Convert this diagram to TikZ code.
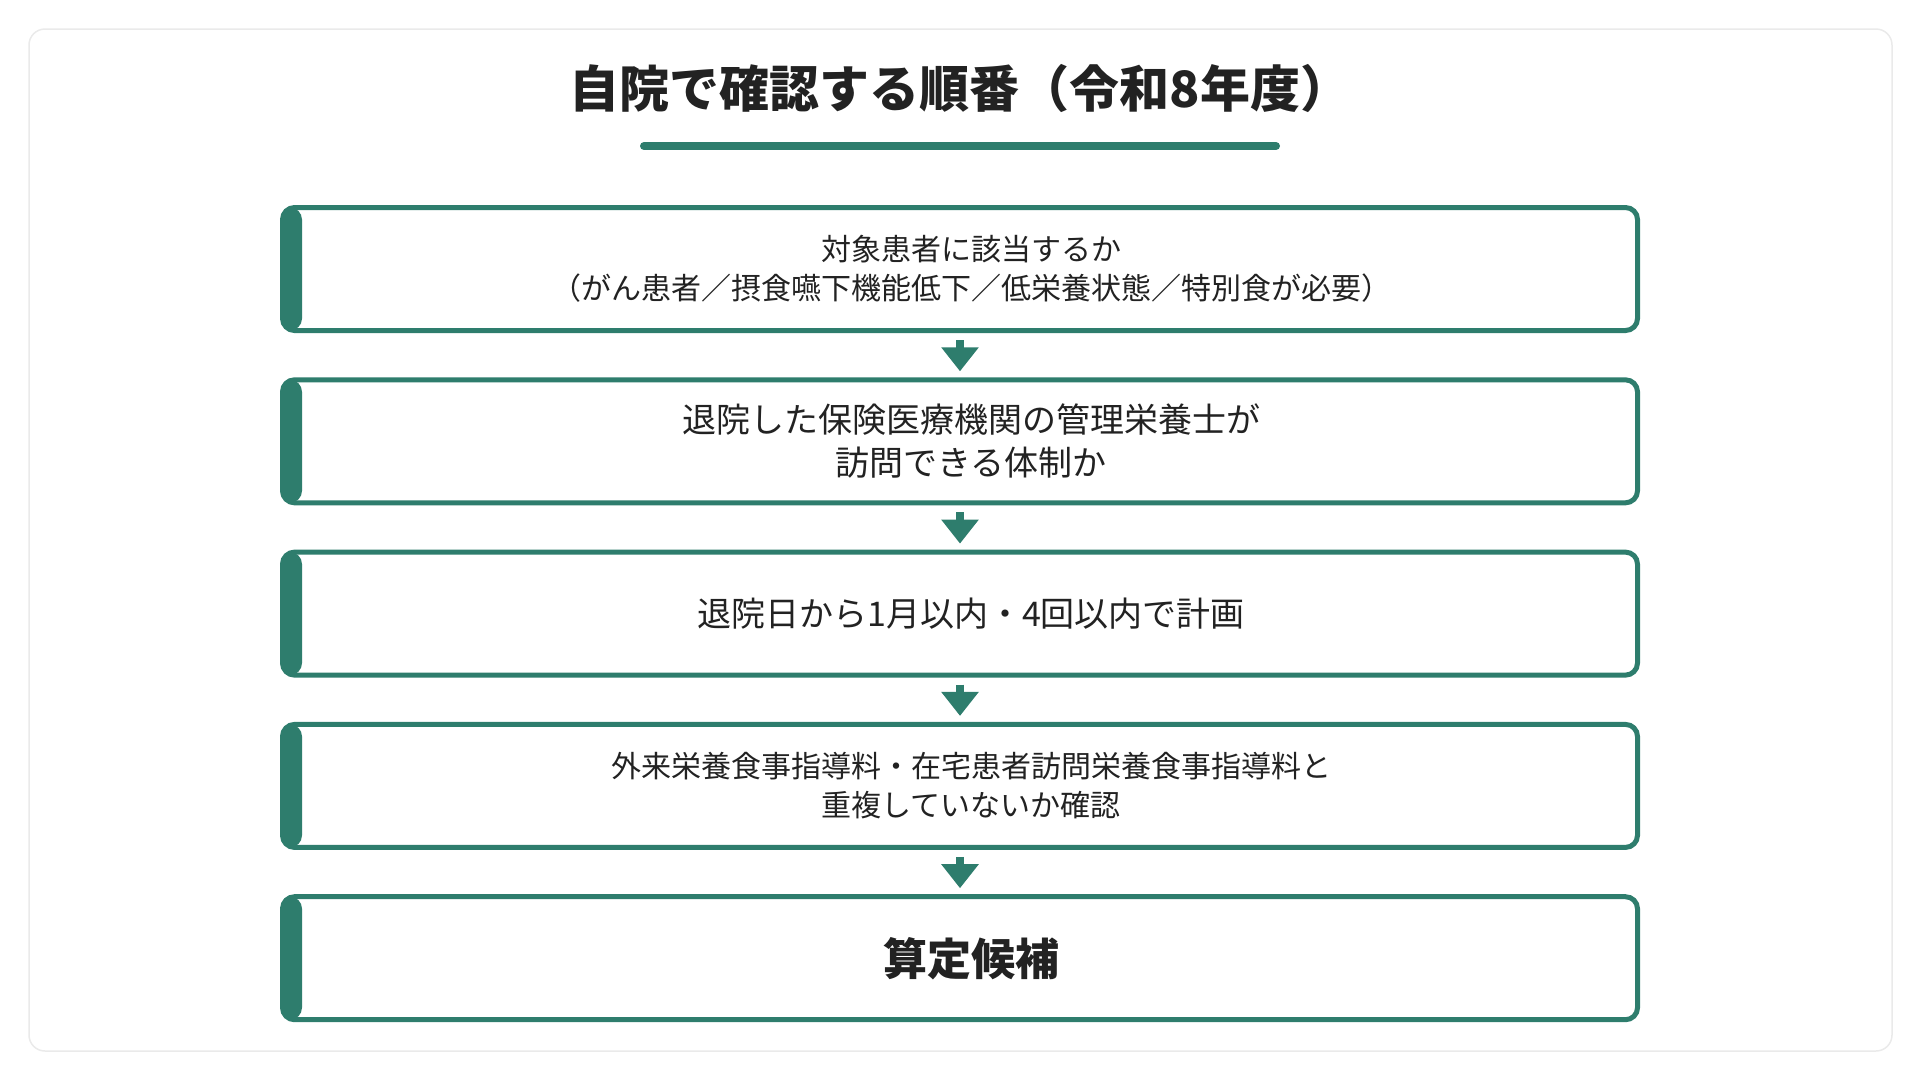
\documentclass[tikz,border=0pt]{standalone}
\usepackage{fontspec}
\setmainfont{Noto Sans CJK JP}
\usetikzlibrary{positioning,arrows.meta}
\definecolor{flowgreen}{RGB}{46,125,109}
\definecolor{inkgray}{RGB}{34,34,34}
\definecolor{cardgray}{RGB}{234,234,234}
\tikzset{
  stepbox/.style={draw=flowgreen, line width=5pt, fill=white, rounded corners=12pt,
    minimum width=1355pt, minimum height=123pt,
    path picture={\fill[flowgreen] (path picture bounding box.north west) rectangle ([xshift=19.5pt]path picture bounding box.south west);}},
  steptext/.style={text=inkgray, align=center, font=\fontsize{30}{39}\selectfont},
  bigtext/.style={steptext, font=\fontsize{34}{43}\selectfont},
  flowarrow/.style={draw=flowgreen, line width=8pt, -{Triangle[width=36pt,length=24pt]}, shorten <=7pt, shorten >=6pt},
}

\begin{document}
\begin{tikzpicture}[x=1pt,y=-1pt]
  \useasboundingbox (0,0) rectangle (1920,1080);
  \draw[cardgray, line width=1.5pt, rounded corners=16pt] (29,29) rectangle (1892,1051);
  \node[text=inkgray, font=\fontsize{50}{60}\selectfont\bfseries] (title) at (960,88.5) {自院で確認する順番（令和8年度）};
  \draw[flowgreen, line width=8pt, line cap=round] (644,146) -- (1276,146);

  \node[stepbox] (s1) at (960,269) {};
  \node[stepbox, below=44.3pt of s1] (s2) {};
  \node[stepbox, below=44.3pt of s2] (s3) {};
  \node[stepbox, below=44.3pt of s3] (s4) {};
  \node[stepbox, below=44.3pt of s4] (s5) {};

  \node[steptext] (t1) at ([xshift=11pt]s1.center) {対象患者に該当するか\\（がん患者／摂食嚥下機能低下／低栄養状態／特別食が必要）};
  \node[bigtext] (t2) at ([xshift=11pt]s2.center) {退院した保険医療機関の管理栄養士が\\訪問できる体制か};
  \node[bigtext] (t3) at ([xshift=11pt]s3.center) {退院日から1月以内・4回以内で計画};
  \node[steptext] (t4) at ([xshift=11pt]s4.center) {外来栄養食事指導料・在宅患者訪問栄養食事指導料と\\重複していないか確認};
  \node[steptext, font=\fontsize{44}{52}\selectfont\bfseries] (t5) at ([xshift=11pt]s5.center) {算定候補};

  \foreach \a/\b in {s1/s2,s2/s3,s3/s4,s4/s5}
    \draw[flowarrow] (\a) -- (\b);
\end{tikzpicture}
\end{document}
